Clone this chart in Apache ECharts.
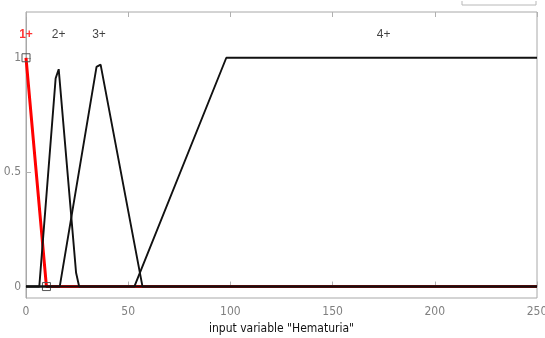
<!DOCTYPE html>
<html>
<head>
<meta charset="utf-8">
<script src="https://cdn.jsdelivr.net/npm/echarts@6/dist/echarts.min.js"></script>
<style>
  html, body { margin: 0; padding: 0; background: #fff; }
  #chart { width: 545px; height: 338px; }
</style>
</head>
<body>
<div id="chart"></div>
<script>
// membership functions of input variable "Hematuria"
const mf1 = [[0, 1], [10, 0], [250, 0]];
const mf2 = [[0, 0], [6.5, 0], [14.5, 0.91], [16, 0.95], [24.5, 0.06], [26, 0], [250, 0]];
const mf3 = [[0, 0], [16.5, 0], [34.5, 0.96], [36.5, 0.97], [57, 0], [250, 0]];
const mf4 = [[0, 0], [53, 0], [98, 1], [250, 1]];

const mfNames = ['1+', '2+', '3+', '4+'];
const labelX = [0, 16, 35.7, 175];
const labelY = 1.1;

const yTicks = [0, 0.5, 1];

const chart = echarts.init(document.getElementById('chart'));

const tickFont = "'Liberation Sans Narrow', 'DejaVu Sans Condensed', 'Roboto', sans-serif";

const blackLine = (data) => ({
  type: 'line',
  data: data,
  symbol: 'none',
  lineStyle: { color: '#111', width: 1.9 },
  z: 3
});

const option = {
  animation: false,
  grid: {
    left: 26, right: 8, top: 12, bottom: 40,
    outerBoundsMode: 'none',
    containLabel: false,
    show: true,
    borderColor: '#a8a8a8',
    borderWidth: 1
  },
  xAxis: [
    {
      type: 'value',
      min: 0, max: 250, interval: 50,
      name: 'input variable "Hematuria"',
      nameLocation: 'middle',
      nameGap: 20,
      nameTextStyle: { color: '#111', fontSize: 12, fontFamily: tickFont },
      axisLine: { show: true, lineStyle: { color: '#a8a8a8' } },
      axisTick: { show: true, inside: true, length: 5, lineStyle: { color: '#b0b0b0' } },
      axisLabel: { color: '#808080', fontSize: 12, fontFamily: tickFont, margin: 8 },
      splitLine: { show: false }
    },
    {
      type: 'value',
      position: 'top',
      min: 0, max: 250, interval: 50,
      axisLine: { show: false },
      axisTick: { show: true, inside: true, length: 5, lineStyle: { color: '#b0b0b0' } },
      axisLabel: { show: false },
      splitLine: { show: false }
    }
  ],
  yAxis: {
    type: 'value',
    min: -0.05, max: 1.2,
    axisLine: { show: true, lineStyle: { color: '#a8a8a8' } },
    axisTick: { show: true, inside: true, length: 5, customValues: yTicks, lineStyle: { color: '#b0b0b0' } },
    axisLabel: { color: '#808080', fontSize: 12, fontFamily: tickFont, margin: 5, customValues: yTicks },
    splitLine: { show: false }
  },
  graphic: [
    {
      type: 'polyline',
      shape: { points: [[462, 1], [462, 5], [536, 5], [536, 1]] },
      style: { stroke: '#b8b8b8', fill: null, lineWidth: 1 }
    }
  ],
  series: [
    {
      type: 'line',
      data: mf1.map((p, i) => ({ value: p, symbol: i < 2 ? 'rect' : 'none' })),
      symbolSize: 8,
      showAllSymbol: true,
      lineStyle: { color: '#ff0000', width: 3 },
      itemStyle: { color: 'rgba(0,0,0,0)', borderColor: '#555', borderWidth: 1 },
      z: 2
    },
    blackLine(mf2),
    blackLine(mf3),
    blackLine(mf4),
    {
      type: 'scatter',
      symbolSize: 0,
      data: mfNames.map((n, i) => ({
        name: n,
        value: [labelX[i], labelY],
        label: { color: i === 0 ? '#ff0000' : '#111', fontWeight: i === 0 ? 'bold' : 'normal' }
      })),
      label: {
        show: true,
        position: 'inside',
        formatter: '{b}',
        fontSize: 12,
        fontFamily: "'Liberation Sans', Arial, sans-serif"
      },
      silent: true,
      z: 4
    }
  ]
};

chart.setOption(option);
</script>
</body>
</html>
